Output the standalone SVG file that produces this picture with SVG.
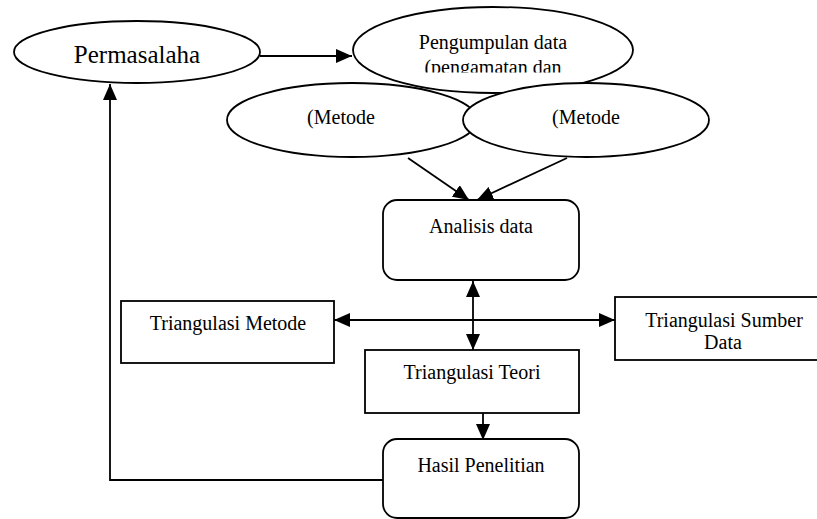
<svg xmlns="http://www.w3.org/2000/svg" width="817" height="519" viewBox="0 0 817 519">
<style>
.shape{fill:#fff;stroke:#000;stroke-width:1.8}
.t{font-family:"Liberation Serif","Times New Roman",serif;font-size:20px;fill:#000;text-anchor:middle}
.big{font-size:25px}
.line{fill:none;stroke:#000;stroke-width:1.8}
</style>
<defs>
<marker id="ah" markerUnits="userSpaceOnUse" markerWidth="16" markerHeight="14" viewBox="0 0 16 14" refX="16" refY="7" orient="auto-start-reverse">
<path d="M0,0 L16,7 L0,14 Z" fill="#000"/>
</marker>
<clipPath id="clipP"><rect x="350" y="0" width="290" height="72.5"/></clipPath>
</defs>
<rect width="817" height="519" fill="#fff"/>
<g id="connectors">
<line class="line" x1="260" y1="56" x2="352" y2="56" marker-end="url(#ah)"/>
<line class="line" x1="408" y1="158" x2="469" y2="200" marker-end="url(#ah)"/>
<line class="line" x1="567" y1="158" x2="477" y2="200" marker-end="url(#ah)"/>
<line class="line" x1="473" y1="281" x2="473" y2="350" marker-start="url(#ah)" marker-end="url(#ah)"/>
<line class="line" x1="334" y1="320" x2="615" y2="320" marker-start="url(#ah)" marker-end="url(#ah)"/>
<line class="line" x1="483" y1="413" x2="483" y2="440" marker-end="url(#ah)"/>
<polyline class="line" points="383,480 110,480 110,84" marker-end="url(#ah)"/>
</g>
<g id="permasalaha">
<ellipse class="shape" cx="137" cy="52" rx="123" ry="31"/>
<text class="t big" x="137" y="63">Permasalaha</text>
</g>
<g id="pengumpulan">
<ellipse class="shape" cx="493" cy="50" rx="140" ry="43"/>
<text class="t" x="493" y="49">Pengumpulan data</text>
<text class="t" x="493" y="74" clip-path="url(#clipP)">(pengamatan dan</text>
</g>
<g id="metode-1">
<ellipse class="shape" cx="352" cy="120" rx="125" ry="37"/>
<text class="t" x="341" y="124">(Metode</text>
</g>
<g id="metode-2">
<ellipse class="shape" cx="586" cy="120" rx="123" ry="37"/>
<text class="t" x="586" y="124">(Metode</text>
</g>
<g id="analisis">
<rect class="shape" x="383" y="200" width="196" height="80" rx="14"/>
<text class="t" x="481" y="233">Analisis data</text>
</g>
<g id="tri-metode">
<rect class="shape" x="121" y="301" width="213" height="62"/>
<text class="t" x="228" y="330">Triangulasi Metode</text>
</g>
<g id="tri-sumber">
<rect class="shape" x="615" y="297" width="204" height="63"/>
<text class="t" x="724" y="327">Triangulasi Sumber</text>
<text class="t" x="723" y="349">Data</text>
</g>
<g id="tri-teori">
<rect class="shape" x="365" y="350" width="214" height="63"/>
<text class="t" x="472" y="379">Triangulasi Teori</text>
</g>
<g id="hasil">
<rect class="shape" x="383" y="439" width="196" height="79" rx="14"/>
<text class="t" x="481" y="472">Hasil Penelitian</text>
</g>
</svg>
